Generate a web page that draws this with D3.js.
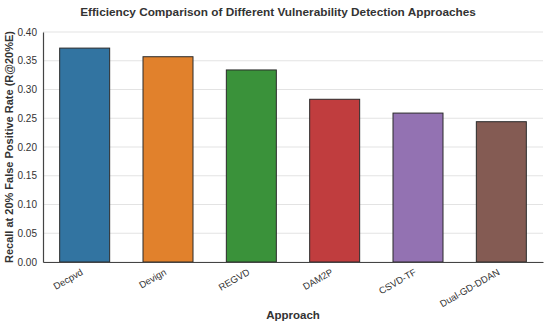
<!DOCTYPE html>
<html>
<head>
<meta charset="utf-8">
<script src="https://cdn.jsdelivr.net/npm/d3@7"></script>
<style>
  body { margin: 0; background: #fff; }
  text { font-family: "Liberation Sans", Arial, sans-serif; }
</style>
</head>
<body>
<div id="chart"></div>
<script>
var width = 550;
var height = 326;

// data
var approaches = ["Decpvd", "Devign", "REGVD", "DAM2P", "CSVD-TF", "Dual-GD-DDAN"];
var recall = [0.372, 0.357, 0.334, 0.283, 0.259, 0.244];
var barColors = ["#3274a1", "#e1812c", "#3a923a", "#c03d3e", "#9372b2", "#845b53"];
var yTicks = [0, 0.05, 0.10, 0.15, 0.20, 0.25, 0.30, 0.35, 0.40];

var margin = { top: 32, right: 7, bottom: 64, left: 43 };

var svg = d3.select("#chart")
    .append("svg")
    .attr("width", width)
    .attr("height", height);

var x = d3.scaleBand()
    .domain(approaches)
    .range([margin.left, width - margin.right])
    .paddingInner(0.4)
    .paddingOuter(0.2);

var y = d3.scaleLinear()
    .domain([0, 0.4])
    .range([height - margin.bottom, margin.top]);

// grid
svg.append("g")
    .selectAll("line")
    .data(yTicks)
    .enter()
    .append("line")
    .attr("x1", margin.left)
    .attr("x2", width - margin.right)
    .attr("y1", d => y(d))
    .attr("y2", d => y(d))
    .style("stroke", "#e3e3e3")
    .style("stroke-width", 1);

// bars
svg.append("g")
    .selectAll("rect")
    .data(approaches)
    .enter()
    .append("rect")
    .attr("x", d => x(d))
    .attr("width", x.bandwidth())
    .attr("y", (d, i) => y(recall[i]))
    .attr("height", (d, i) => y(0) - y(recall[i]))
    .style("fill", (d, i) => barColors[i])
    .style("stroke", "#2b2b2b")
    .style("stroke-width", 1);

// y axis
var yAxis = svg.append("g")
    .attr("transform", `translate(${margin.left},0)`)
    .call(d3.axisLeft(y).tickValues(yTicks).tickFormat(d3.format(".2f")).tickSize(0).tickPadding(6));
yAxis.select(".domain").style("stroke", "#444").style("stroke-width", 1.2);
yAxis.selectAll("text").style("font-size", "10px").style("fill", "#333");

// x axis
var xAxis = svg.append("g")
    .attr("transform", `translate(0,${height - margin.bottom})`)
    .call(d3.axisBottom(x).tickSize(0));
xAxis.select(".domain").style("stroke", "#444").style("stroke-width", 1.2);
xAxis.selectAll("text")
    .style("font-size", "9.5px")
    .style("fill", "#333")
    .style("text-anchor", "end")
    .attr("x", 0)
    .attr("y", 0)
    .attr("dy", 0)
    .attr("transform", "translate(-1,12) rotate(-30)");

// title and labels
svg.append("text")
    .attr("x", 278)
    .attr("y", 16)
    .attr("text-anchor", "middle")
    .style("font-size", "11.8px")
    .style("font-weight", "bold")
    .style("fill", "#333")
    .text("Efficiency Comparison of Different Vulnerability Detection Approaches");

svg.append("text")
    .attr("x", 293)
    .attr("y", 319)
    .attr("text-anchor", "middle")
    .style("font-size", "11.5px")
    .style("font-weight", "bold")
    .style("fill", "#333")
    .text("Approach");

svg.append("text")
    .attr("transform", `translate(13,${(margin.top + height - margin.bottom) / 2}) rotate(-90)`)
    .attr("text-anchor", "middle")
    .style("font-size", "11px")
    .style("font-weight", "bold")
    .style("fill", "#333")
    .text("Recall at 20% False Positive Rate (R@20%E)");
</script>
</body>
</html>
